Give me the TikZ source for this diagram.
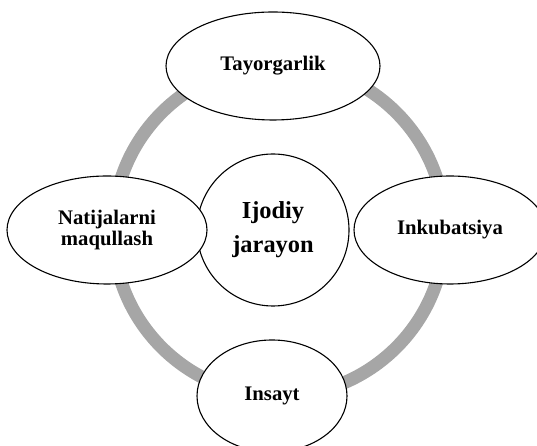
\documentclass[tikz,border=0pt]{standalone}
\usepackage{fontspec}
\setmainfont{Liberation Serif}
\usetikzlibrary{shapes.geometric}
\definecolor{ringgray}{RGB}{166,166,166}

\begin{document}
\begin{tikzpicture}[x=1pt,y=1pt]

  \useasboundingbox (0,0) rectangle (537,446);

  % node styles
  \tikzstyle{Oval}=[
  shape=ellipse,
  draw,
  line width=1.1pt,
  fill=white,
  inner sep=0pt,
  align=center,
  font=\fontsize{20.7}{21.5}\selectfont\bfseries]

  \tikzstyle{Hub}=[
  shape=circle,
  draw,
  line width=1.1pt,
  fill=white,
  inner sep=0pt,
  minimum size=152pt,
  align=center,
  font=\fontsize{24.4}{34}\selectfont\bfseries]

  \tikzstyle{Ring}=[draw=ringgray,line width=13pt]

  \coordinate (X) at (279,216);

  % the grey cycle
  \draw[Ring] (X) circle[radius=166pt];

  \draw (X) node[Hub] (C) at +(-6,0) {Ijodiy\\jarayon};

  \draw (X) node[Oval,minimum width=214pt,minimum height=108pt] (T) at +(-6,164)   {Tayorgarlik};
  \draw (X) node[Oval,minimum width=192pt,minimum height=108pt] (I) at +(171,0)    {Inkubatsiya};
  \draw (X) node[Oval,minimum width=150pt,minimum height=112pt] (S) at +(-7,-166)  {Insayt};
  \draw (X) node[Oval,minimum width=200pt,minimum height=108pt] (N) at +(-172,0)   {Natijalarni\\maqullash};

\end{tikzpicture}
\end{document}
